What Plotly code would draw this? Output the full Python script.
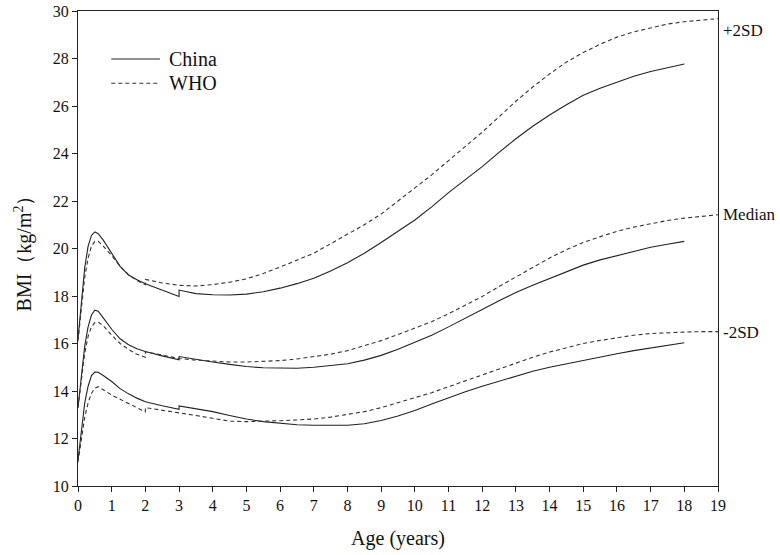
import plotly.graph_objects as go

# ---- data ----
china_age = [0, 0.1, 0.2, 0.3, 0.4, 0.5, 0.6, 0.75, 1, 1.25, 1.5, 1.75, 2,
             2.5, 3, 3,
             3.5, 4, 4.5, 5, 5.5, 6, 6.5, 7, 7.5, 8, 8.5, 9, 9.5, 10, 10.5,
             11, 11.5, 12, 12.5, 13, 13.5, 14, 14.5, 15, 15.5, 16, 16.5, 17,
             17.5, 18]
who_age = [0, 0.1, 0.2, 0.3, 0.4, 0.5, 0.6, 0.75, 1, 1.25, 1.5, 1.75, 2,
           2,
           2.5, 3, 3.5, 4, 4.5, 5, 5.5, 6, 6.5, 7, 7.5, 8, 8.5, 9, 9.5, 10,
           10.5, 11, 11.5, 12, 12.5, 13, 13.5, 14, 14.5, 15, 15.5, 16, 16.5,
           17, 17.5, 18, 18.5, 19]

china_p2sd = [16.2, 17.8, 19.2, 20.1, 20.55, 20.7, 20.62, 20.35, 19.8, 19.25, 18.88, 18.68, 18.52,
              18.25, 17.98, 18.25,
              18.1, 18.05, 18.04, 18.08, 18.18, 18.33, 18.52, 18.75, 19.05, 19.4, 19.8, 20.25,
              20.72, 21.2, 21.75, 22.35, 22.9, 23.45, 24.05, 24.62, 25.15, 25.62, 26.05, 26.45,
              26.75, 27.0, 27.25, 27.45, 27.62, 27.77]
china_median = [13.3, 14.7, 15.9, 16.7, 17.2, 17.4, 17.36, 17.08, 16.6, 16.2, 15.95, 15.78, 15.66,
                15.48, 15.31, 15.45,
                15.32, 15.22, 15.12, 15.03, 14.98, 14.96, 14.96, 15.0, 15.07, 15.15, 15.3, 15.5,
                15.76, 16.05, 16.35, 16.7, 17.05, 17.43, 17.8, 18.15, 18.45, 18.73, 19.02, 19.3,
                19.52, 19.7, 19.9, 20.05, 20.18, 20.3]
china_m2sd = [11.1, 12.4, 13.5, 14.2, 14.65, 14.8, 14.79, 14.65, 14.4, 14.1, 13.88, 13.7, 13.55,
              13.38, 13.23, 13.37,
              13.25, 13.13, 12.97, 12.82, 12.71, 12.63, 12.58, 12.56, 12.55, 12.56, 12.62, 12.76,
              12.95, 13.18, 13.45, 13.72, 13.97, 14.2, 14.42, 14.63, 14.83, 15.0, 15.15, 15.3,
              15.44, 15.57, 15.7, 15.82, 15.93, 16.03]

who_p2sd = [16.1, 17.5, 18.8, 19.6, 20.1, 20.3, 20.3, 20.1, 19.7, 19.25, 18.9, 18.65, 18.48,
            18.7,
            18.55, 18.45, 18.42, 18.48, 18.58, 18.72, 18.95, 19.22, 19.5, 19.8, 20.2, 20.6, 21.0,
            21.45, 22.0, 22.55, 23.1, 23.7, 24.3, 24.9, 25.55, 26.2, 26.8, 27.35, 27.85, 28.25,
            28.6, 28.9, 29.12, 29.3, 29.45, 29.55, 29.62, 29.68]
who_median = [13.3, 14.5, 15.6, 16.3, 16.7, 16.88, 16.9, 16.75, 16.35, 16.0, 15.75, 15.55, 15.42,
              15.65,
              15.5, 15.37, 15.3, 15.25, 15.22, 15.22, 15.25, 15.28, 15.35, 15.45, 15.55, 15.7,
              15.9, 16.12, 16.38, 16.65, 16.92, 17.25, 17.6, 17.98, 18.4, 18.8, 19.22, 19.6,
              19.95, 20.25, 20.5, 20.72, 20.9, 21.05, 21.18, 21.28, 21.36, 21.42]
who_m2sd = [11.0, 12.0, 12.9, 13.5, 13.9, 14.12, 14.18, 14.05, 13.83, 13.65, 13.48, 13.3, 13.12,
            13.3,
            13.2, 13.1, 12.97, 12.85, 12.73, 12.71, 12.72, 12.75, 12.78, 12.82, 12.9, 13.0, 13.13,
            13.3, 13.5, 13.72, 13.93, 14.18, 14.43, 14.68, 14.93, 15.18, 15.42, 15.64, 15.83,
            16.0, 16.13, 16.25, 16.35, 16.42, 16.46, 16.48, 16.5, 16.5]

x_ticks = list(range(0, 20))
y_ticks = list(range(10, 31, 2))
curve_labels = ["+2SD", "Median", "-2SD"]
label_y = [29.2, 21.45, 16.45]
legend_names = ["China", "WHO"]

FONT = "Liberation Serif"
SOLID = dict(color="#222222", width=1.1)
DASHED = dict(color="#333333", width=1.1, dash="4px,3px")

fig = go.Figure()
china = [china_p2sd, china_median, china_m2sd]
who = [who_p2sd, who_median, who_m2sd]
for ys in china:
    fig.add_trace(go.Scatter(x=china_age, y=ys, mode="lines", line=SOLID,
                             name=legend_names[0], showlegend=False, hoverinfo="skip"))
for ys in who:
    fig.add_trace(go.Scatter(x=who_age, y=ys, mode="lines", line=DASHED,
                             name=legend_names[1], showlegend=False, hoverinfo="skip"))

# legend drawn as key lines + text (compact row spacing like the reference)
legend_rows = [0.899, 0.848]
for name, ly, style in zip(legend_names, legend_rows, [SOLID, DASHED]):
    fig.add_shape(type="line", xref="paper", yref="paper", x0=0.052, x1=0.128,
                  y0=ly, y1=ly, line=style)
    fig.add_annotation(x=0.139, xref="paper", y=ly, yref="paper", text=name,
                       showarrow=False, xanchor="left", yanchor="middle",
                       font=dict(family=FONT, size=20, color="#111"))

for txt, yv in zip(curve_labels, label_y):
    fig.add_annotation(x=1, xref="paper", y=yv, yref="y", text=txt,
                       showarrow=False, xanchor="left", xshift=3,
                       font=dict(family=FONT, size=17, color="#111"))

axis_common = dict(showline=True, linecolor="#222", linewidth=1, mirror=True,
                   ticks="outside", ticklen=5, tickcolor="#222", tickwidth=1,
                   showgrid=False, zeroline=False, automargin=False,
                   ticklabeloverflow="allow",
                   tickfont=dict(family=FONT, size=16, color="#111"))

fig.update_xaxes(range=[0, 19], tickvals=x_ticks, ticktext=[str(v) for v in x_ticks],
                 title=dict(text="Age (years)", font=dict(family=FONT, size=20, color="#111"),
                            standoff=17),
                 **axis_common)
fig.update_yaxes(range=[10, 30], tickvals=y_ticks, ticktext=[str(v) for v in y_ticks],
                 title=dict(text="BMI（kg/m<sup>2</sup>）",
                            font=dict(family=FONT, size=20, color="#111"),
                            standoff=15),
                 **axis_common)

fig.update_layout(
    width=780, height=555,
    margin=dict(l=78, r=62, t=11, b=69),
    font=dict(family=FONT, color="#111"),
    paper_bgcolor="white", plot_bgcolor="white",
    showlegend=False,
)

# remove the default 8px page margin so the 780x555 figure fills the window exactly
fig.write_html("out.html",
               config={"displayModeBar": False},
               post_script="document.body.style.margin='0';document.body.style.overflow='hidden';")
